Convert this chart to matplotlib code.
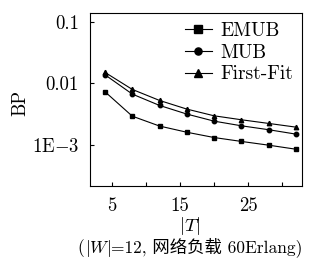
import matplotlib
matplotlib.use("Agg")
import matplotlib.pyplot as plt
from matplotlib.offsetbox import TextArea, HPacker, AnchoredOffsetbox

plt.rcParams['font.family'] = ['cmr10', 'Noto Sans CJK SC']
plt.rcParams['mathtext.fontset'] = 'cm'
plt.rcParams['axes.unicode_minus'] = False
plt.rcParams['axes.formatter.use_mathtext'] = True

T = [4, 8, 12, 16, 20, 24, 28, 32]
emub = [0.00733, 0.00295, 0.00204, 0.00162, 0.00133, 0.00115, 0.00100, 0.00086]
mub = [0.0138, 0.00672, 0.0044, 0.00319, 0.00245, 0.00206, 0.00178, 0.00151]
firstfit = [0.0151, 0.0080, 0.0053, 0.00384, 0.00299, 0.00258, 0.00225, 0.00196]
series_labels = ['EMUB', 'MUB', 'First-Fit']
ytick_vals = [0.1, 0.01, 0.001]
ytick_labels = ['0.1', '0.01', r'1E$-$3']
xtick_vals = [5, 10, 15, 20, 25, 30]
xtick_labels = ['5', '', '15', '', '25', '']

fig = plt.figure(figsize=(3.18, 2.66), dpi=100)
ax = fig.add_axes([0.283, 0.301, 0.667, 0.650])

for vals, mk, lab in zip([emub, mub, firstfit], ['s', 'o', '^'], series_labels):
    ax.plot(T, vals, color='black', lw=0.8, marker=mk, markersize=3.2, label=lab)

ax.set_yscale('log')
ax.set_ylim(10**-3.66, 10**-0.86)
ax.set_xlim(1.8, 32.9)
ax.set_yticks(ytick_vals)
ax.set_yticklabels(ytick_labels)
ax.minorticks_off()
ax.set_xticks(xtick_vals)
ax.set_xticklabels(xtick_labels)
ax.tick_params(direction='in', length=3, width=0.8, labelsize=13.5, pad=8)
for s in ax.spines.values():
    s.set_linewidth(0.8)

leg = ax.legend(loc='upper right', frameon=False, prop={'family': 'cmr10', 'size': 14},
                handlelength=1.4, markerscale=1.6, borderaxespad=0.25, labelspacing=0.2,
                handletextpad=0.45, borderpad=0.2)

fig.text(20/318, 1-103/266, 'BP', rotation=90, ha='center', va='center', fontsize=13.5)
fig.text(190/318, 1-226/266, r'$|T|$', ha='center', va='center', fontsize=13.5)

cap_props = {'fontsize': 12.5, 'family': ['cmr10', 'Noto Sans CJK SC']}
parts = [TextArea('(', textprops=cap_props),
         TextArea(r'$|W|$', textprops={'fontsize': 12.5}),
         TextArea('=12, 网络负载 60Erlang)', textprops=cap_props)]
box = HPacker(children=parts, align='baseline', pad=0, sep=0)
anch = AnchoredOffsetbox(loc='center', child=box, frameon=False, pad=0, borderpad=0,
                         bbox_to_anchor=(190/318, 1-248/266), bbox_transform=fig.transFigure)
fig.add_artist(anch)

fig.savefig('out.png', dpi=100)
